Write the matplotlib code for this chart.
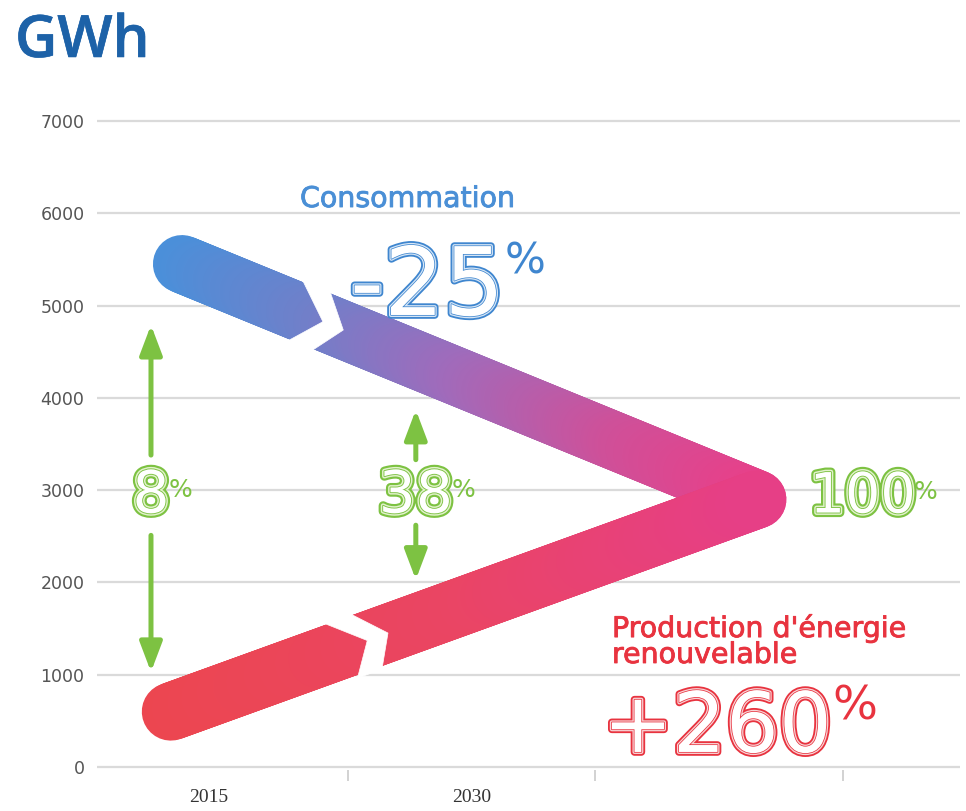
import numpy as np
import matplotlib
matplotlib.use("Agg")
import matplotlib.pyplot as plt
from matplotlib.collections import LineCollection
from matplotlib.colors import LinearSegmentedColormap
from matplotlib.patches import Polygon
import matplotlib.patheffects as pe

# ---------------- data ----------------
year_labels = ["2015", "2030"]
year_pos = [-0.06, 1.0]
band_edges = [0.5, 1.5, 2.5]
y_ticks = [0, 1000, 2000, 3000, 4000, 5000, 6000, 7000]

cons_x = [-0.17, 2.155]          # consumption trajectory (start -> meeting point)
cons_y = [5450, 2900]
prod_x = [-0.215, 2.155]         # renewable production trajectory
prod_y = [600, 2900]

gap_x = [-0.295, 0.775]          # green gap arrows
gap_low = [1030, 2030]
gap_high = [4790, 3870]
gap_labels = ["8", "38"]

# ---------------- style ----------------
W, H = 966, 811
fig = plt.figure(figsize=(W / 100, H / 100), dpi=100)
plt.rcParams["font.family"] = ["DejaVu Sans"]

ylo, yhi = -30, 7060
ppu = 0.092286  # px per GWh
ax_bottom_px = 767 + (0 - ylo) * ppu
ax_top_px = 121 - (yhi - 7000) * ppu
ax = fig.add_axes([97 / W, 1 - ax_bottom_px / H, (960 - 97) / W, (ax_bottom_px - ax_top_px) / H])
ax.set_xlim((97 - 224) / 247.5, (960 - 224) / 247.5)
ax.set_ylim(ylo, yhi)
for s in ax.spines.values():
    s.set_visible(False)

ax.set_yticks(y_ticks)
ax.set_yticklabels([str(v) for v in y_ticks])
ax.yaxis.grid(True, color="#dadada", lw=1.6, zorder=0)
ax.tick_params(axis="y", length=0, pad=9, labelsize=12.5, labelcolor="#555555")
ax.set_xticks(year_pos)
ax.set_xticklabels(year_labels, family="Liberation Serif", fontsize=14, color="#333333")
ax.set_xticks(band_edges, minor=True)
ax.tick_params(axis="x", which="major", length=0, pad=14)
ax.tick_params(axis="x", which="minor", length=8, width=1.3, color="#cfcfcf", direction="out")

GREEN = "#7dc242"
BLUE = "#3f86cf"
RED = "#e8333f"

LW_PX = 58
LW = LW_PX * 72 / 100

cons_cmap = LinearSegmentedColormap.from_list(
    "cons", [(0, "#4a90da"), (0.25, "#6f80ca"), (0.5, "#a06bbb"), (0.78, "#cf5099"), (1, "#e6418a")])
prod_cmap = LinearSegmentedColormap.from_list(
    "prod", [(0, "#ec4650"), (0.5, "#ea4563"), (1, "#e63f86")])


def gradient_stroke(xs, ys, cmap, z, n=300):
    t = np.linspace(0, 1, n + 1)
    x = xs[0] + (xs[1] - xs[0]) * t
    y = ys[0] + (ys[1] - ys[0]) * t
    pts = np.column_stack([x, y])
    segs = np.stack([pts[:-1], pts[1:]], axis=1)
    lc = LineCollection(segs, colors=cmap((t[:-1] + t[1:]) / 2), linewidths=LW,
                        capstyle="round", zorder=z)
    ax.add_collection(lc)


def chevron_gap(xs, ys, tip_frac, aL1, aR1, aL2, aR2, gap, z):
    p0 = ax.transData.transform((xs[0], ys[0]))
    p1 = ax.transData.transform((xs[1], ys[1]))
    d = p1 - p0
    L = np.hypot(*d)
    t = d / L
    n = np.array([-t[1], t[0]])
    h = LW_PX / 2 + 3
    u0 = tip_frac * L
    pts_uv = [(u0 - aL1, h), (u0, 0), (u0 - aR1, -h),
              (u0 + gap - aR2, -h), (u0 + gap, 0), (u0 + gap - aL2, h)]
    disp = np.array([p0 + u * t + v * n for u, v in pts_uv])
    data = ax.transData.inverted().transform(disp)
    ax.add_patch(Polygon(data, closed=True, facecolor="white", edgecolor="white",
                         lw=0.5, zorder=z))


gradient_stroke(cons_x, cons_y, cons_cmap, 3)
gradient_stroke(prod_x, prod_y, prod_cmap, 4)
chevron_gap(cons_x, cons_y, 0.245, 36, 26, 28, 22, 22, 5)
chevron_gap(prod_x, prod_y, 0.335, 36, 22, 30, 18, 22, 5)

# green arrows
arrow_style = "-|>,head_length=1.8,head_width=0.68"
gap_inner = [(3380, 2510), (3330, 2620)]
for x, lo, hi, (ia, ib) in zip(gap_x, gap_low, gap_high, gap_inner):
    ax.annotate("", xy=(x, hi), xytext=(x, ia),
                arrowprops=dict(arrowstyle=arrow_style, lw=3.6, color=GREEN,
                                shrinkA=0, shrinkB=0), zorder=6)
    ax.annotate("", xy=(x, lo), xytext=(x, ib),
                arrowprops=dict(arrowstyle=arrow_style, lw=3.6, color=GREEN,
                                shrinkA=0, shrinkB=0), zorder=6)


def outlined(color, pale, k=1.0):
    return [pe.Stroke(linewidth=6.5 * k, foreground=color),
            pe.Stroke(linewidth=3.4 * k, foreground=pale),
            pe.Stroke(linewidth=1.3 * k, foreground=color),
            pe.Normal()]


def pct_number(x, y, digits, size, color, pale, pct_size, ha="center", pct_frac=0.6,
               pct_dx=0, k=1.0):
    t = ax.text(x, y, digits, fontsize=size, color="white", ha=ha, va="baseline",
                path_effects=outlined(color, pale, k), zorder=8)
    ax.annotate("%", xy=(1, pct_frac), xycoords=t, xytext=(pct_dx, 0),
                textcoords="offset points", fontsize=pct_size, color=color,
                ha="left", va="center", zorder=8)
    return t


# gap labels
for x, lab in zip(gap_x, gap_labels):
    pct_number(x, 2757, lab, 42, GREEN, "#e2f2cc", 18, pct_frac=0.6, pct_dx=-1)
pct_number(2.58, 2757, "100", 40, GREEN, "#e2f2cc", 18, pct_frac=0.6, pct_dx=-1)

# consumption label
ax.text((300 - 224) / 247.5, 6068, "Consommation", fontsize=20.5, color="#4a8fd6",
        ha="left", va="baseline", zorder=8,
        path_effects=[pe.Stroke(linewidth=0.6, foreground="#4a8fd6"), pe.Normal()])
pct_number((350 - 224) / 247.5, 4898, "-25", 68, BLUE, "#d6e6f6", 31, ha="left",
           pct_frac=0.8, pct_dx=0, k=0.85)

# production label
for txt, yb in [("Production d'énergie", 1408), ("renouvelable", 1127)]:
    ax.text((612 - 224) / 247.5, yb, txt, fontsize=20.5, color=RED,
            ha="left", va="baseline", zorder=8,
            path_effects=[pe.Stroke(linewidth=0.6, foreground=RED), pe.Normal()])
pct_number((603 - 224) / 247.5, 163, "+260", 60, RED, "#f8d4d6", 34, ha="left",
           pct_frac=0.76, pct_dx=0, k=0.85)

# unit title
fig.text(15 / W, 1 - 57 / H, "GWh", fontsize=42, color="#1d62a8", ha="left",
         va="baseline", family=["Open Sans", "DejaVu Sans"], weight="semibold",
         path_effects=[pe.Stroke(linewidth=0.4, foreground="#1d62a8"), pe.Normal()])

fig.savefig("out.png", dpi=100, facecolor="white")
